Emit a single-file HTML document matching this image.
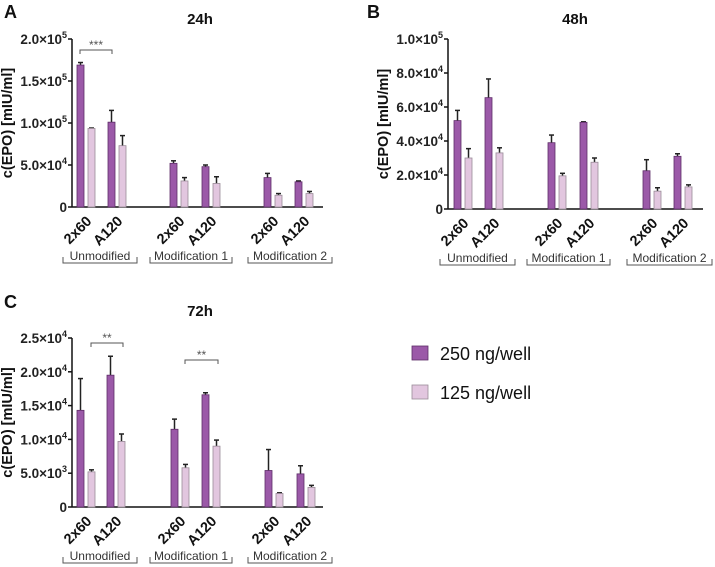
<!DOCTYPE html>
<html><head><meta charset="utf-8">
<style>
body{margin:0;background:#fff;width:715px;height:567px;overflow:hidden;font-family:"Liberation Sans",Arial,sans-serif}
svg{position:absolute;left:0;top:0}
</style></head>
<body>
<svg id="chart" width="715" height="567" xmlns="http://www.w3.org/2000/svg"></svg>
<script>
const categories = ["2x60","A120","2x60","A120","2x60","A120"];
const groups = ["Unmodified","Modification 1","Modification 2"];
const seriesNames = ["250 ng/well","125 ng/well"];
// Panel A (24h)
const aDark = [169000,101000,52000,48000,35000,30000];
const aDarkErr = [3000,14000,3000,2000,5000,1000];
const aLight = [93500,73000,31000,28000,14000,16000];
const aLightErr = [500,12000,4000,8000,2000,2500];
const aTicks = [0,50000,100000,150000,200000];
const aTickLabels = ["0","5.0×10^4","1.0×10^5","1.5×10^5","2.0×10^5"];
// Panel B (48h)
const bDark = [52000,65500,39000,51000,22500,31000];
const bDarkErr = [6000,11000,4500,300,6500,1500];
const bLight = [30000,33000,19500,27500,10500,13000];
const bLightErr = [5500,3000,1500,2500,2000,1200];
const bTicks = [0,20000,40000,60000,80000,100000];
const bTickLabels = ["0","2.0×10^4","4.0×10^4","6.0×10^4","8.0×10^4","1.0×10^5"];
// Panel C (72h)
const cDark = [14300,19500,11500,16600,5400,4900];
const cDarkErr = [4700,2800,1500,300,3100,1200];
const cLight = [5200,9700,5800,9000,2000,2900];
const cLightErr = [300,1100,500,900,100,300];
const cTicks = [0,5000,10000,15000,20000,25000];
const cTickLabels = ["0","5.0×10^3","1.0×10^4","1.5×10^4","2.0×10^4","2.5×10^4"];

const NS="http://www.w3.org/2000/svg";
const svg=document.getElementById('chart');
function mk(tag,attrs,parent){const e=document.createElementNS(NS,tag);for(const k in attrs)e.setAttribute(k,attrs[k]);(parent||svg).appendChild(e);return e;}

const panels=[
 {id:'a',letter:'A',lx:4,ly:18,title:'24h',tx:200,ty:24,ax:72,x1:323,y0:207,yTop:39,max:200000,
  dark:aDark,de:aDarkErr,light:aLight,le:aLightErr,ticks:aTicks,tl:aTickLabels,
  darkX:[77,108,170,202,264,295],catY:222,grpY:260,grpX:[[63,137],[150,232],[248,332]],
  sig:[[80,112,50,'***']]},
 {id:'b',letter:'B',lx:367,ly:18,title:'48h',tx:575,ty:24,ax:448,x1:703,y0:209,yTop:39,max:100000,
  dark:bDark,de:bDarkErr,light:bLight,le:bLightErr,ticks:bTicks,tl:bTickLabels,
  darkX:[454,485,548,580,643,674],catY:224,grpY:262,grpX:[[440,515],[527,610],[627,712]],sig:[]},
 {id:'c',letter:'C',lx:4,ly:308,title:'72h',tx:200,ty:316,ax:72,x1:323,y0:507,yTop:338,max:25000,
  dark:cDark,de:cDarkErr,light:cLight,le:cLightErr,ticks:cTicks,tl:cTickLabels,
  darkX:[77,107,171,202,265,297],catY:522,grpY:560,grpX:[[63,137],[150,232],[248,332]],
  sig:[[91,123,343,'**'],[185,218,360,'**']]}
];
const W=7, OFF=11;
panels.forEach(p=>{
  const g=mk('g',{});
  
  
  const y=v=>p.y0-(v/p.max)*(p.y0-p.yTop);
  const L=mk('text',{x:p.lx,y:p.ly,'font-size':18,'font-weight':'bold',fill:'#111'},g);L.textContent=p.letter;
  
  const T=mk('text',{x:p.tx,y:p.ty,'font-size':15,'font-weight':'bold','text-anchor':'middle',fill:'#111'},g);T.textContent=p.title;
  
  const yt=mk('text',{transform:`translate(${p.ax-60},${(p.y0+p.yTop)/2}) rotate(-90)`,'font-size':14.5,'font-weight':'bold','text-anchor':'middle',fill:'#111'},g);
  yt.textContent='c(EPO) [mIU/ml]';
  
  const ya=mk('line',{x1:p.ax,y1:p.yTop,x2:p.ax,y2:p.y0,stroke:'#111','stroke-width':1.5},g);
  
  const xa=mk('line',{x1:p.ax,y1:p.y0,x2:p.x1,y2:p.y0,stroke:'#111','stroke-width':1.5},g);
  
  p.ticks.forEach((t,i)=>{
    const yy=y(t);
    mk('line',{x1:p.ax-4,y1:yy,x2:p.ax,y2:yy,stroke:'#111','stroke-width':1.5},g);
    const lab=p.tl[i];
    const tx=mk('text',{x:p.ax-5,y:yy+5,'font-size':13.5,'font-weight':'bold','text-anchor':'end',fill:'#222'},g);
    
    if(lab.includes('^')){const [b,e]=lab.split('^');
      const s1=mk('tspan',{},tx);s1.textContent=b;
      const s2=mk('tspan',{dy:-6,'font-size':9},tx);s2.textContent=e;
    } else tx.textContent=lab;
  });
  for(let i=0;i<categories.length;i++){
    const dx=p.darkX[i], lx=dx+OFF;
    [[dx,p.dark[i],p.de[i],'#9b59a8','#5e2d68','bar-250'],[lx,p.light[i],p.le[i],'#e2c6df','#9a8c98','bar-125']].forEach(([x,v,e,f,s,n])=>{
      const top=y(v), et=y(v+e);
      const el=mk('line',{x1:x+W/2,y1:top,x2:x+W/2,y2:et,stroke:'#222','stroke-width':1.5},g);
      
      mk('line',{x1:x+W/2-2.5,y1:et,x2:x+W/2+2.5,y2:et,stroke:'#222','stroke-width':1.5},g);
      const r=mk('rect',{x:x,y:top,width:W,height:p.y0-top,fill:f,stroke:s,'stroke-width':0.8},g);
      
    });
    const cx=dx+W+OFF/2+3;
    const ct=mk('text',{transform:`translate(${cx},${p.catY}) rotate(-45)`,'font-size':14.5,'font-weight':'bold','text-anchor':'end',fill:'#111'},g);
    ct.textContent=categories[i];
    
  }
  groups.forEach((gn,i)=>{
    const [a,b]=p.grpX[i];
    const gt=mk('text',{x:(a+b)/2,y:p.grpY,'font-size':12,'text-anchor':'middle',fill:'#333'},g);
    gt.textContent=gn;
    
    mk('path',{d:`M${a},${p.grpY-3}V${p.grpY+3}H${b}V${p.grpY-3}`,fill:'none',stroke:'#555','stroke-width':1},g);
  });
  p.sig.forEach(s=>{
    const br=mk('path',{d:`M${s[0]},${s[2]+4}V${s[2]}H${s[1]}V${s[2]+4}`,fill:'none',stroke:'#555','stroke-width':1},g);
    
    const st=mk('text',{x:(s[0]+s[1])/2,y:s[2]-1,'font-size':12,'text-anchor':'middle',fill:'#555'},g);
    st.textContent=s[3];
    
  });
});
const leg=mk('g',{});

[[346,'#9b59a8','#5e2d68'],[385,'#e2c6df','#9a8c98']].forEach((d,i)=>{
  const r=mk('rect',{x:412,y:d[0],width:16,height:14,fill:d[1],stroke:d[2],'stroke-width':0.8},leg);
  
  const t=mk('text',{x:440,y:d[0]+14,'font-size':18,fill:'#111'},leg);
  t.textContent=seriesNames[i];
  
});
</script>
</body></html>
